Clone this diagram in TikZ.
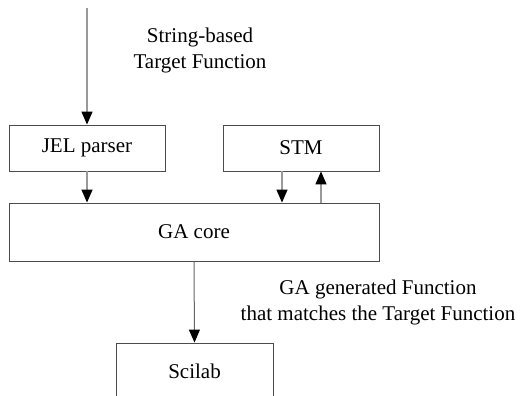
\documentclass[tikz,border=0pt]{standalone}
\usepackage{fontspec}
\setmainfont{Liberation Serif}
\usetikzlibrary{arrows.meta}
\begin{document}
\begin{tikzpicture}[x=1pt,y=-1pt,
  box/.style={draw=black!70,line width=0.9pt,inner sep=0pt,font=\fontsize{21}{26}\selectfont},
  conn/.style={draw=black!40,line width=1.4pt,-{Triangle[length=13pt,width=11pt,color=black]}},
  lbl/.style={align=center,font=\fontsize{21}{26}\selectfont,inner sep=0pt}]
\useasboundingbox (0,0) rectangle (520,396);
\clip (0,0) rectangle (520,396);
\node[box,minimum width=156pt,minimum height=46pt] (jel) at (87,148) {JEL parser};
\node[box,minimum width=156pt,minimum height=46pt] (stm) at (301,148) {STM};
\node[box,minimum width=370pt,minimum height=58pt] (ga) at (194,232) {GA core};
\node[box,minimum width=157pt,minimum height=56pt] (sci) at (194.5,371) {Scilab};
\coordinate (in) at (87,8);
\draw[conn] (in) -- (jel.north);
\draw[conn] (jel.south) -- (ga.north -| jel.south);
\draw[conn] (stm.south -| 282,0) -- (ga.north -| 282,0);
\draw[conn] (ga.north -| 321,0) -- (stm.south -| 321,0);
\draw[conn,draw=black!60,line width=1pt] (ga.south) -- (sci.north);
\node[lbl] (t1) at (200,50) {String-based\\Target Function};
\node[lbl] (t2) at (378,302) {GA generated Function\\that matches the Target Function};
\end{tikzpicture}
\end{document}
